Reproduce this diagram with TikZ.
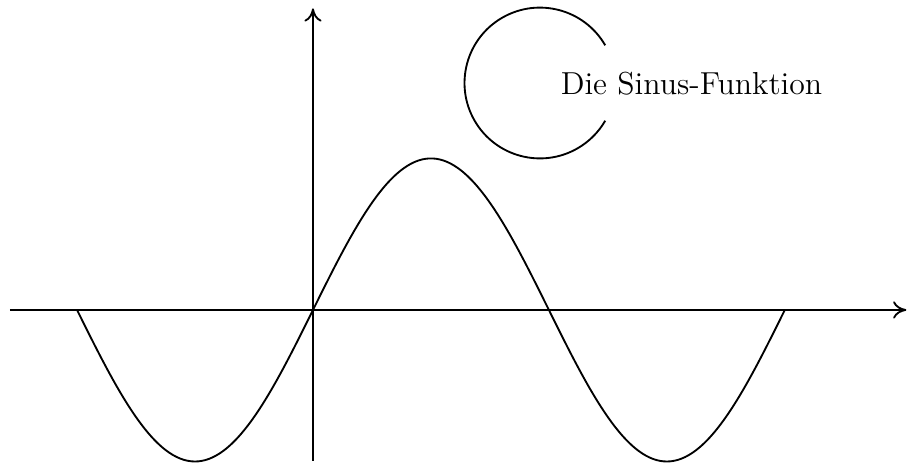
\documentclass[tikz,border=0pt]{standalone}
\usetikzlibrary{arrows.meta}
\begin{document}
\begin{tikzpicture}[line width=0.7pt,
  axis/.style={-{To[length=5pt,width=6.5pt]}},
  curve/.style={},
  labeltext/.style={font=\fontsize{12}{14}\selectfont, inner sep=0pt}]
\useasboundingbox (-4.151,-2.069) rectangle (7.958,4.111);
\coordinate (xl) at (-4.02,0);
\coordinate (xr) at (7.87,0);
\coordinate (yb) at (0,-2);
\coordinate (yt) at (0,4);
\draw[axis] (xl) -- (xr);
\draw[axis] (yb) -- (yt);
\draw[curve, domain=-pi:2*pi, samples=200, smooth, xscale=0.996] plot (\x, {2.01*sin(\x r)});
\coordinate (cc) at (3.01,3.01);
\draw (cc) ++(30:1) arc (30:330:1);
\node[labeltext] (lbl) at (5.02,3.0) {Die Sinus-Funktion};
\end{tikzpicture}
\end{document}
